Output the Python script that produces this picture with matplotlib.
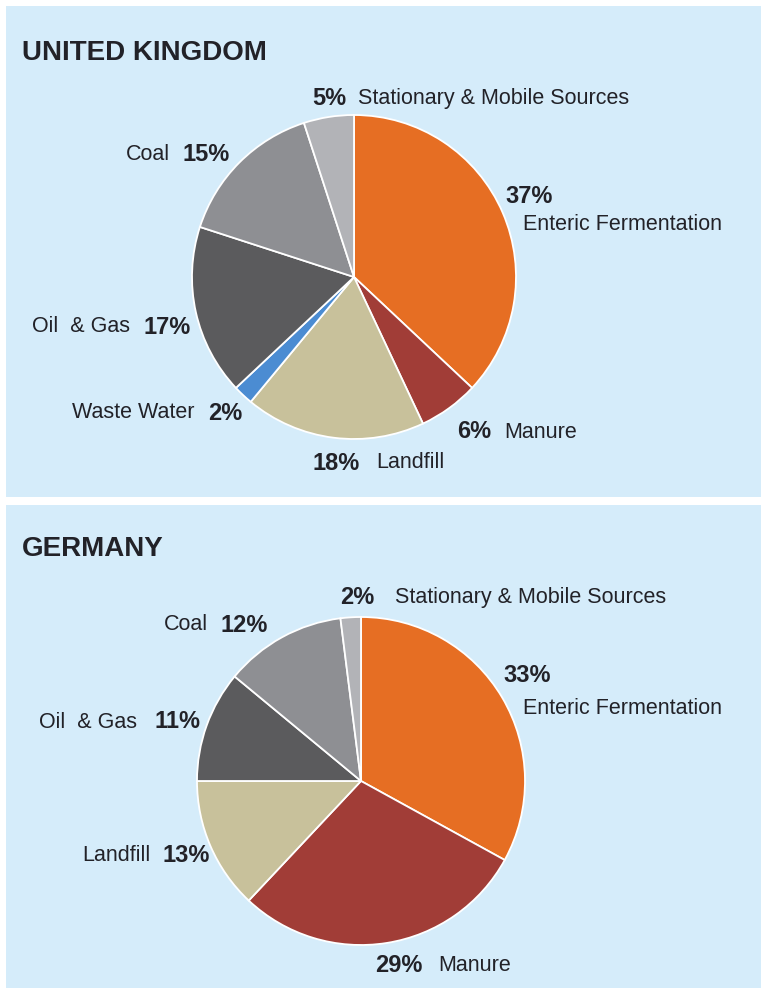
import matplotlib
matplotlib.use("Agg")
import matplotlib.pyplot as plt
from matplotlib.patches import Rectangle

W, H = 761, 988

# ---- data ----
uk_categories = ["Enteric Fermentation", "Manure", "Landfill", "Waste Water",
                 "Oil  & Gas", "Coal", "Stationary & Mobile Sources"]
uk_values = [37, 6, 18, 2, 17, 15, 5]

de_categories = ["Enteric Fermentation", "Manure", "Landfill",
                 "Oil  & Gas", "Coal", "Stationary & Mobile Sources"]
de_values = [33, 29, 13, 11, 12, 2]

colors = {
    "Enteric Fermentation": "#e66e23",
    "Manure": "#a13d37",
    "Landfill": "#c8c19b",
    "Waste Water": "#4b8cd2",
    "Oil  & Gas": "#5b5b5d",
    "Coal": "#8e8f93",
    "Stationary & Mobile Sources": "#b2b3b7",
}

BG = "#d5ecfa"
TXT = "#222228"
FONT = "Liberation Sans"

fig = plt.figure(figsize=(W / 100, H / 100), dpi=100)
fig.patch.set_facecolor("white")
ax = fig.add_axes([0, 0, 1, 1])
ax.set_xlim(0, W)
ax.set_ylim(0, H)
ax.axis("off")


def Y(y):
    return H - y


# panels
ax.add_patch(Rectangle((6, Y(497)), W - 6, 491, facecolor=BG, edgecolor="none", zorder=0))
ax.add_patch(Rectangle((6, Y(988)), W - 6, 483, facecolor=BG, edgecolor="none", zorder=0))

# titles
ax.text(22, Y(53), "UNITED KINGDOM", fontsize=20, fontweight="bold", family=FONT,
        color=TXT, ha="left", va="center")
ax.text(22, Y(549), "GERMANY", fontsize=20, fontweight="bold", family=FONT,
        color=TXT, ha="left", va="center")


def draw_pie(values, cats, center, radius):
    ax.pie(values, colors=[colors[c] for c in cats], startangle=90, counterclock=False,
           center=(center[0], Y(center[1])), radius=radius,
           wedgeprops=dict(edgecolor="white", linewidth=1.3))


draw_pie(uk_values, uk_categories, (354, 277), 162)
draw_pie(de_values, de_categories, (361, 781), 164)
ax.set_xlim(0, W)
ax.set_ylim(0, H)
ax.set_aspect("auto")

# label layout: (category, pct x, pct y, name x, name y, side)
# side "r": pct left-aligned, name to the right; "l": name left of pct
uk_labels = [
    ("Stationary & Mobile Sources", 312, 99, 358, 99, "r"),
    ("Enteric Fermentation", 505, 197, 523, 225, "r"),
    ("Manure", 457, 432, 504, 432, "r"),
    ("Landfill", 312, 463, 376, 463, "r"),
    ("Waste Water", 242, 413, 195, 413, "l"),
    ("Oil  & Gas", 191, 327, 130, 327, "l"),
    ("Coal", 230, 155, 170, 155, "l"),
]
de_labels = [
    ("Stationary & Mobile Sources", 340, 598, 395, 598, "r"),
    ("Enteric Fermentation", 503, 675, 523, 709, "r"),
    ("Manure", 375, 965, 438, 965, "r"),
    ("Landfill", 210, 855, 150, 855, "l"),
    ("Oil  & Gas", 200, 722, 137, 722, "l"),
    ("Coal", 268, 625, 208, 625, "l"),
]


def draw_labels(values, cats, layout):
    lookup = dict(zip(cats, values))
    for cat, px, py, nx, ny, side in layout:
        pct = f"{lookup[cat]}%"
        ha = "left" if side == "r" else "right"
        ax.text(px, Y(py), pct, fontsize=17, fontweight="bold", family=FONT,
                color=TXT, ha=ha, va="center")
        ax.text(nx, Y(ny), cat, fontsize=15.5, family=FONT, color=TXT,
                ha=ha, va="center")


draw_labels(uk_values, uk_categories, uk_labels)
draw_labels(de_values, de_categories, de_labels)

fig.savefig("out.png", dpi=100, facecolor=fig.get_facecolor())
